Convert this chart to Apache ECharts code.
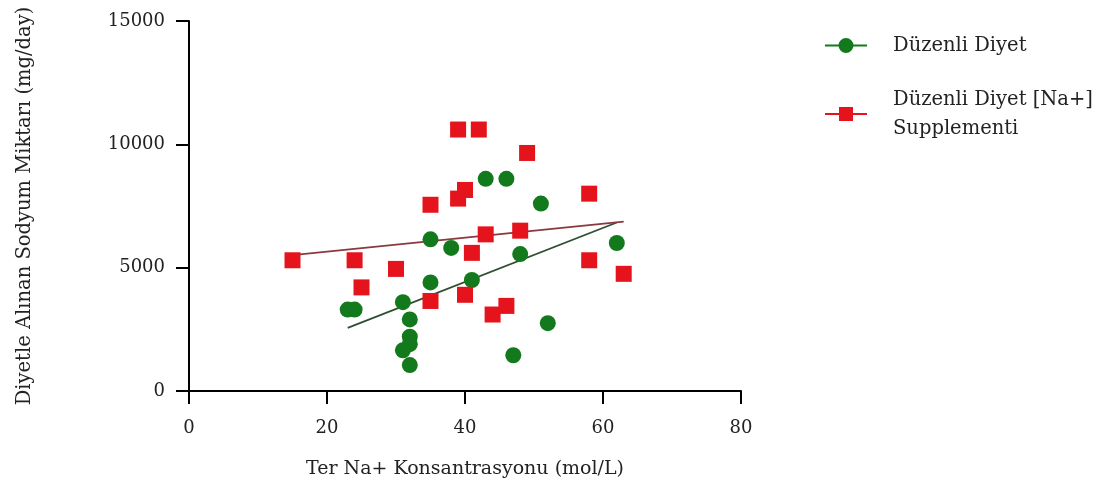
<!DOCTYPE html>
<html>
<head>
<meta charset="utf-8">
<script src="https://cdn.jsdelivr.net/npm/echarts@6/dist/echarts.min.js"></script>
<style>
html,body{margin:0;padding:0;background:#fff;}
#chart{width:1105px;height:490px;}
</style>
</head>
<body>
<div id="chart"></div>
<script>
// ---- data ----
var seriesNames = ['Düzenli Diyet', 'Düzenli Diyet [Na+]\nSupplementi'];
var greenX = [23, 24, 31, 31, 32, 32, 32, 32, 35, 35, 38, 41, 43, 46, 47, 48, 51, 52, 62];
var greenY = [3300, 3300, 1650, 3600, 2900, 2200, 1900, 1050, 6150, 4400, 5800, 4500, 8600, 8600, 1450, 5550, 7600, 2750, 6000];
var redX = [15, 24, 25, 30, 35, 35, 39, 39, 40, 40, 41, 42, 43, 44, 46, 48, 49, 58, 58, 63];
var redY = [5300, 5300, 4200, 4950, 7550, 3650, 10600, 7800, 8150, 3900, 5600, 10600, 6350, 3100, 3450, 6500, 9650, 8000, 5300, 4750];
var xTicks = [0, 20, 40, 60, 80];
var yTicks = [0, 5000, 10000, 15000];
var xAxisTitle = 'Ter Na+ Konsantrasyonu (mol/L)';
var yAxisTitle = 'Diyetle Alınan Sodyum Miktarı (mg/day)';

function pairs(xs, ys) { return xs.map(function (x, i) { return [x, ys[i]]; }); }
function regression(xs, ys) {
  var n = xs.length, mx = 0, my = 0;
  for (var i = 0; i < n; i++) { mx += xs[i]; my += ys[i]; }
  mx /= n; my /= n;
  var sxy = 0, sxx = 0;
  for (var j = 0; j < n; j++) { sxy += (xs[j] - mx) * (ys[j] - my); sxx += (xs[j] - mx) * (xs[j] - mx); }
  var b = sxy / sxx, a = my - b * mx;
  var x0 = Math.min.apply(null, xs), x1 = Math.max.apply(null, xs);
  return [[x0, a + b * x0], [x1, a + b * x1]];
}

var GREEN = '#127a1c';
var RED = '#e5141c';
var FONT = 'DejaVu Serif';

var circleIcon = 'path://M0,6.5 L13.6,6.5 L13.6,8.5 L0,8.5 Z M28.4,6.5 L42,6.5 L42,8.5 L28.4,8.5 Z M28.5,7.5 A7.5,7.5 0 1,1 13.5,7.5 A7.5,7.5 0 1,1 28.5,7.5 Z';
var squareIcon = 'path://M0,6.5 L14,6.5 L14,8.5 L0,8.5 Z M28,6.5 L42,6.5 L42,8.5 L28,8.5 Z M14,0.5 L28,0.5 L28,14.5 L14,14.5 Z';

var chart = echarts.init(document.getElementById('chart'), null, { renderer: 'canvas' });
chart.setOption({
  backgroundColor: '#ffffff',
  animation: false,
  grid: { left: 189, right: 364, top: 21, bottom: 99, containLabel: false },
  legend: {
    orient: 'vertical',
    left: 820,
    top: 26,
    itemWidth: 42,
    itemHeight: 15,
    itemGap: 25,
    data: [
      { name: seriesNames[0], icon: circleIcon },
      { name: seriesNames[1], icon: squareIcon }
    ],
    textStyle: { fontFamily: FONT, fontSize: 19.5, color: '#222', lineHeight: 29, padding: [0, 0, 0, 21] }
  },
  xAxis: {
    type: 'value',
    min: xTicks[0], max: xTicks[xTicks.length - 1], interval: xTicks[1] - xTicks[0],
    name: xAxisTitle, nameLocation: 'middle', nameGap: 69,
    nameTextStyle: { fontFamily: FONT, fontSize: 19, color: '#222' },
    axisLine: { show: true, onZero: false, lineStyle: { color: '#000', width: 2 } },
    axisTick: { show: true, length: 13, lineStyle: { color: '#000', width: 2 } },
    axisLabel: { margin: 28, fontFamily: FONT, fontSize: 18, color: '#222' },
    splitLine: { show: false }
  },
  yAxis: {
    type: 'value',
    min: yTicks[0], max: yTicks[yTicks.length - 1], interval: yTicks[1] - yTicks[0],
    name: yAxisTitle, nameLocation: 'middle', nameGap: 154, nameRotate: 90,
    nameTextStyle: { fontFamily: FONT, fontSize: 19.5, color: '#222' },
    axisLine: { show: true, onZero: false, lineStyle: { color: '#000', width: 2 } },
    axisTick: { show: true, length: 13, lineStyle: { color: '#000', width: 2 } },
    axisLabel: { margin: 24, fontFamily: FONT, fontSize: 18, color: '#222', formatter: function (v) { return String(v); } },
    splitLine: { show: false }
  },
  series: [
    {
      name: 'fit-green', type: 'line', data: regression(greenX, greenY),
      showSymbol: false, symbol: 'none', z: 1,
      lineStyle: { color: '#2f4f30', width: 1.8 }
    },
    {
      name: 'fit-red', type: 'line', data: regression(redX, redY),
      showSymbol: false, symbol: 'none', z: 1,
      lineStyle: { color: '#8a3a3e', width: 1.8 }
    },
    {
      name: seriesNames[0], type: 'scatter', data: pairs(greenX, greenY),
      symbol: 'circle', symbolSize: 16, z: 3,
      itemStyle: { color: GREEN, opacity: 1 }
    },
    {
      name: seriesNames[1], type: 'scatter', data: pairs(redX, redY),
      symbol: 'rect', symbolSize: 16, z: 4,
      itemStyle: { color: RED, opacity: 1 }
    }
  ]
});
</script>
</body>
</html>
